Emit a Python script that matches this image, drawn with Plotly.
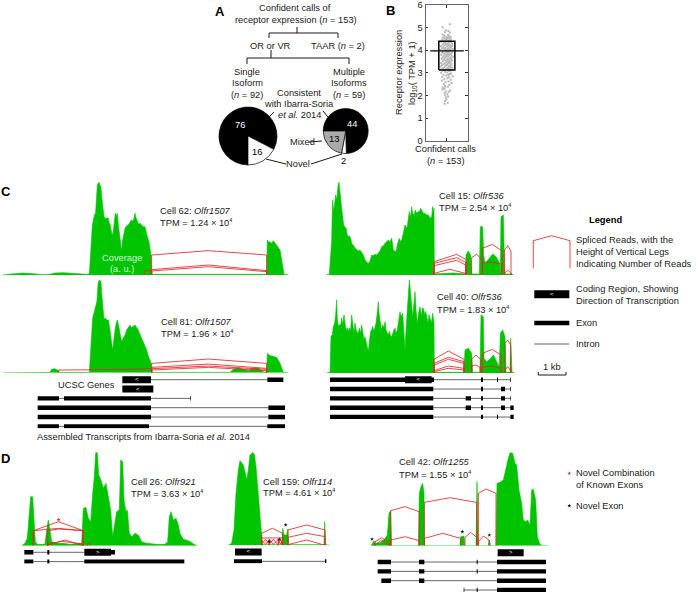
import plotly.graph_objects as go

W, H = 696, 592
GREEN = "#00C400"
RED = "rgba(228,40,40,0.85)"
INK = "#1a1a1a"
FONT = "Liberation Sans"

# ---- Panel A
PIE_SINGLE = [76, 16]
PIE_MULTI = [44, 2, 13]

# ---- Panel B
BOX_Q1, BOX_MEDIAN, BOX_Q3 = 3.13, 3.97, 4.40
BEE_Y = [5.15, 5.02, 4.88, 4.85, 4.80, 4.78, 4.70, 4.68,
         4.64,4.62,4.60,4.58,4.56,4.55,4.53,4.51,4.50,4.48,4.46,4.45,4.43,4.42,4.40,4.39,4.37,4.36,4.34,4.33,4.31,4.30,4.28,4.27,4.25,4.24,4.22,4.21,4.19,4.18,4.16,4.15,4.13,4.12,4.10,4.09,4.08,4.06,4.05,4.04,4.03,4.02,4.01,4.00,3.99,
         3.97,3.96,3.94,3.93,3.92,3.90,3.89,3.87,3.86,3.85,3.83,3.82,3.80,3.79,3.77,3.76,3.74,3.73,3.71,3.70,3.68,3.67,3.65,3.64,3.62,3.61,3.59,3.58,3.56,3.55,3.53,3.52,3.50,3.49,3.47,3.46,3.44,3.43,3.41,3.40,3.38,3.37,3.35,3.34,3.32,3.31,3.29,3.28,3.26,3.25,3.23,3.22,3.20,3.19,3.17,3.16,3.15,3.14,3.13,3.12,
         3.10,3.07,3.05,3.02,3.00,2.97,2.95,2.92,2.90,2.88,2.85,2.82,2.80,2.76,2.72,2.70,2.66,2.62,2.58,2.55,2.50,2.46,2.42,2.38,2.35,2.32,2.30,2.26,2.22,2.18,2.15,2.10,2.05,2.00,1.95,1.90,1.82,1.75,1.68,1.63]
BEE_X = [0.14, -0.20, -0.05, 0.07, -0.09, 0.14, -0.20, 0.06,
         -0.12, 0.10, -0.02, 0.18, -0.18, 0.05, -0.10, 0.12, 0.00, -0.22, 0.20, -0.06,
         0.08, -0.16, 0.15, 0.02, -0.26, 0.22, -0.08, 0.11, -0.14, 0.04, 0.26, -0.04,
         -0.20, 0.16, 0.07, -0.11, 0.24, -0.28, 0.01, 0.13, -0.17, 0.19, -0.07, 0.09,
         -0.24, 0.28, 0.03, -0.13, 0.17, -0.03, 0.10, -0.30, 0.21, -0.09, 0.05, -0.18,
         0.14, -0.02, 0.25, -0.22, 0.08, -0.12, 0.02, 0.18, -0.07, -0.26, 0.12, 0.00,
         0.22, -0.15, 0.06, -0.05, 0.27, -0.20, 0.15, -0.10, 0.03, -0.24, 0.20, 0.09,
         -0.14, 0.01, 0.24, -0.06, 0.13, -0.19, 0.07, -0.02, 0.18, -0.28, 0.11, -0.09,
         0.04, -0.16, 0.22, 0.00, -0.23, 0.15, -0.07, 0.09, -0.30, 0.19, -0.12, 0.03,
         0.26, -0.18, 0.10, -0.04, -0.26, 0.16, 0.05, -0.13, 0.23, -0.20, 0.12, -0.08,
         0.02, -0.27, 0.20, 0.14, -0.16, 0.07, -0.03, 0.28, -0.22, 0.11, 0.03, -0.12,
         0.18, -0.24, 0.08, -0.06, 0.22, -0.15, 0.12, -0.09, 0.04, -0.20, -0.10, -0.14,
         -0.21, 0.15, -0.05, 0.08, -0.11, 0.02, -0.08, 0.06, -0.04, -0.02, -0.09, 0.04, -0.10]

# ---- Panel C/D coverage tracks: position along the gene, coverage height (a.u.)
CELL62_X = [10,50,70,100,130,150,165,190,225,260,268,271,274,277,280,283,287,289,292,295,297,300,303,305,307,309,312,315,318,321,325,328,331,335,338,341,344,346,349,352,355,358,361,365,367,370,375,380,385,390,395,400,405,408,412,416,420,425,430,435,438,442,447,450,453,455,800,802,806,810,815,820,825,830,840,846,852,865]
CELL62_COV = [1,3,6,4,1,2,6,7,4,2,4,40,100,150,170,178,188,220,270,275,278,270,262,235,220,190,175,172,168,172,170,155,150,125,120,140,175,185,178,185,150,120,95,72,100,120,140,148,150,158,165,162,185,172,160,152,155,150,145,145,130,115,100,80,60,2,2,105,98,100,95,103,95,90,75,40,2,1]
CELL81_X = [10,150,155,165,175,180,268,271,274,278,282,285,288,291,293,295,299,303,305,307,310,312,315,318,322,325,329,332,335,338,341,345,349,352,355,358,361,365,370,375,380,385,390,394,397,401,405,408,412,418,425,432,440,445,450,453,455,690,700,715,730,745,760,775,790,800,802,808,815,830,840,850,865]
CELL81_COV = [0,1,10,12,6,1,1,60,110,165,180,190,200,215,250,273,278,273,240,218,175,158,165,160,158,158,135,118,90,68,100,128,150,158,145,128,110,93,105,113,128,135,143,135,138,140,143,138,133,120,103,85,68,50,38,30,1,1,10,15,10,6,13,13,3,1,58,52,50,46,28,1,0]
CELL15_X = [18,28,32,35,37,38,41,44,47,50,53,55,57,59,62,65,68,71,74,78,82,85,88,92,96,100,105,110,115,120,125,130,134,138,142,145,148,151,155,160,165,170,175,180,185,190,195,200,205,210,215,218,220,224,228,232,238,242,245,250,255,259,262,265,268,271,275,278,282,286,290,294,298,302,305,310,315,320,325,330,335,338,340,342,343,400,436,438,445,452,455,478,481,488,491,495,508,518,528,538,541,543,550,554,575,580]
CELL15_COV = [0,2,60,100,200,225,190,225,240,225,270,275,278,250,230,200,170,150,145,140,120,115,118,110,92,90,80,75,72,75,68,60,48,40,36,35,38,45,60,58,62,60,65,72,85,88,95,100,105,100,110,90,75,72,70,90,110,100,105,125,150,142,145,170,190,170,205,185,180,195,185,190,190,200,195,185,185,180,180,170,175,205,190,200,3,6,3,60,72,60,3,3,145,145,60,35,50,63,55,38,3,175,180,3,3,0]
CELL40_X = [20,30,33,37,40,44,47,50,52,55,58,62,65,68,72,75,78,82,85,88,92,95,98,102,105,108,112,115,118,122,125,128,132,135,138,142,145,148,152,155,158,162,165,168,172,175,178,182,185,188,192,195,198,202,205,208,212,215,218,222,225,228,232,236,240,243,248,252,255,258,262,265,268,270,272,275,278,282,285,288,292,296,300,304,307,310,314,317,320,324,327,330,334,338,340,342,343,432,435,445,455,458,480,483,490,492,500,512,520,528,538,541,548,555,558,570,572,576,585]
CELL40_COV = [0,2,110,115,140,150,175,219,160,139,145,144,165,145,174,150,130,135,124,135,130,174,140,120,150,130,120,119,135,120,144,120,100,109,95,75,64,95,125,129,140,125,139,150,180,214,170,140,129,145,135,154,130,120,114,125,110,109,120,130,134,120,129,160,184,170,179,120,69,130,179,230,279,260,239,190,169,210,244,190,149,180,199,170,195,194,175,185,169,150,175,164,150,179,150,149,2,2,69,74,59,2,2,174,169,44,34,44,54,39,19,119,129,109,2,2,104,2,0]
CELL26_X = [65,75,82,88,92,98,102,106,112,135,140,145,150,155,175,190,210,245,250,258,265,272,278,283,287,292,296,303,310,318,325,332,338,345,350,358,362,368,372,378,382,388,395,405,415,425,440,470,495,503,508,513,520,528,535,540,550,565,585,590]
CELL26_COV = [0,7,22,87,147,147,57,12,4,4,47,77,47,12,7,7,4,7,112,115,82,72,157,207,279,279,212,197,172,187,147,107,27,72,102,107,257,252,137,102,107,37,27,37,32,12,7,4,4,12,87,102,77,82,62,37,19,15,2,0]
CELL159_X = [55,65,72,78,85,90,95,100,105,110,115,120,128,133,138,145,152,157,160,215,218,222,230,233,236,342,344,347,360]
CELL159_COV = [0,6,46,156,226,254,248,241,221,196,226,271,278,274,236,156,76,6,2,2,51,31,31,48,2,2,71,2,0]
CELL42_X = [33,38,42,47,60,72,82,87,92,95,175,178,183,188,192,193,300,302,312,314,348,351,355,385,388,392,408,411,420,430,440,445,450,458,465,470,477,485,490,497,503,510,515,520,527,532,540,548,565]
CELL42_COV = [0,7,15,7,9,17,32,97,105,0,0,157,177,187,157,0,0,27,29,0,0,192,0,0,17,0,0,187,190,197,247,262,279,277,247,242,167,127,77,72,77,62,167,169,137,27,4,0,0]

# spliced reads: left, peak, right position; left, peak, right height
ARCS62 = [(455,625,800,60,73,60),(455,625,800,16,30,13),(455,625,800,12,25,10),(433,445,455,12,14,12)]
ARCS81 = [(455,625,800,28,41,28),(455,625,800,16,26,13),(455,625,800,12,20,10),(455,625,800,8,16,6),(175,315,455,8,9,12)]
ARCS15 = [(342,410,440,40,62,45),(342,410,437,35,52,38),(342,410,437,28,44,30),(342,390,436,5,17,5),(455,470,487,52,62,45),(487,517,547,80,92,72),(487,520,545,38,38,32),(554,563,573,75,88,72),(554,563,573,5,15,5)]
ARCS40 = [(342,385,432,41,66,41),(342,385,432,29,47,34),(342,385,432,24,41,29),(342,385,432,7,21,14),(342,385,432,4,14,9),(455,468,482,41,54,41),(455,468,480,21,24,17),(487,517,543,59,71,54),(487,517,543,17,21,14),(555,563,572,89,99,84),(555,563,572,9,19,7)]
ARCS26 = [(100,175,250,45,72,45),(100,175,250,45,52,45),(143,195,250,2,17,2),(145,185,250,5,13,5),(143,175,250,45,50,45),(262,267,272,2,9,2)]
ARCS159 = [(155,187,218,36,51,36),(155,187,218,22,22,22),(155,167,178,16,3,18),(178,190,205,18,3,18),(205,212,218,18,3,18),(155,167,178,3,18,3),(178,190,205,3,18,3),(205,212,218,3,18,3),(234,290,345,46,61,46),(234,290,345,24,36,26),(234,290,345,2,16,2)]
ARCS42 = [(92,135,178,105,117,102),(92,135,178,17,27,15),(193,270,350,130,144,130),(193,248,302,22,37,22),(315,332,350,25,40,25),(355,378,408,157,170,157),(355,370,387,12,29,17),(45,65,88,12,24,9),(45,65,88,2,17,2)]

# novel markers on tracks
NOVEL_RED_26 = ([176], [78])
NOVEL_BLACK_159 = ([178, 208, 227], [11, 18, 61])
NOVEL_BLACK_42 = ([36, 307, 388], [20, 42, 32])

# gene models: intron spans, exons, coding regions with direction
GENES_C_LEFT = [
    dict(intron=[(453,802)], exon=[(802,850)], coding=[(367,453,"<")]),
    dict(intron=[], exon=[], coding=[(367,460,"<")]),
    dict(intron=[(177,192),(453,572)], exon=[(113,177),(192,453),(571,573)], coding=[]),
    dict(intron=[(453,805)], exon=[(113,453),(805,855)], coding=[]),
    dict(intron=[(453,805)], exon=[(113,453),(805,855)], coding=[]),
    dict(intron=[(177,192),(447,802)], exon=[(113,177),(192,447),(802,855)], coding=[]),
]
GENES_C_RIGHT = [
    dict(intron=[(340,572)], exon=[(30,342),(483,489),(531,534),(571,573)], coding=[(255,335,"<")]),
    dict(intron=[(340,572)], exon=[(30,340),(483,489),(543,555),(571,573)], coding=[]),
    dict(intron=[(340,572)], exon=[(30,340),(437,453),(483,489),(543,555),(571,573)], coding=[]),
    dict(intron=[(340,572)], exon=[(30,340),(437,453),(483,489),(543,555),(571,581)], coding=[]),
    dict(intron=[(340,572)], exon=[(30,340),(483,489),(531,534),(571,581)], coding=[]),
]
GENES_D26 = [
    dict(intron=[(100,253)], exon=[(73,100),(142,148),(333,345)], coding=[(253,333,">")]),
    dict(intron=[(100,253)], exon=[(73,100),(142,148),(253,553)], coding=[]),
]
GENES_D159 = [
    dict(intron=[], exon=[], coding=[(75,155,"<")]),
    dict(intron=[(156,346)], exon=[(72,156),(345,349)], coding=[]),
]
GENES_D42 = [
    dict(intron=[], exon=[], coding=[(413,491,">")]),
    dict(intron=[(93,411)], exon=[(53,93),(177,193),(350,353),(411,558)], coding=[]),
    dict(intron=[(93,411)], exon=[(53,93),(177,193),(350,353),(411,558)], coding=[]),
    dict(intron=[(93,411)], exon=[(64,93),(177,193),(411,558)], coding=[]),
    dict(intron=[(312,411)], exon=[(311,313),(350,353),(411,558)], coding=[]),
]

E4 = '10<sup><span style="font-size:5.5px">4</span></sup>'
LABELS = [
    (295,8,"Confident calls of","center"),
    (296,19.5,"receptor expression (<i>n</i> = 153)","center"),
    (270,46,"OR or VR","center"), (338,46,"TAAR (<i>n</i> = 2)","center"),
    (247,72,"Single","center"), (247,83,"Isoform","center"), (247,95,"(<i>n</i> = 92)","center"),
    (349,72,"Multiple","center"), (349,83,"Isoforms","center"), (349,95,"(<i>n</i> = 59)","center"),
    (299,93,"Consistent","center"), (299,104,"with Ibarra-Soria","center"), (299,115,"<i>et al.</i> 2014","center"),
    (302,142,"Mixed","center"), (298,164,"Novel","center"),
    (445.7,149,"Confident calls","center"), (445.7,161,"(<i>n</i> = 153)","center"),
    (160,211,"Cell 62: <i>Olfr1507</i>","left"), (160,222,"TPM = 1.24 × "+E4,"left"),
    (160.7,322,"Cell 81: <i>Olfr1507</i>","left"), (160.7,333,"TPM = 1.96 × "+E4,"left"),
    (439.3,196,"Cell 15: <i>Olfr536</i>","left"), (439.3,207.7,"TPM = 2.54 × "+E4,"left"),
    (436.7,297.3,"Cell 40: <i>Olfr536</i>","left"), (436.7,309.3,"TPM = 1.83 × "+E4,"left"),
    (86,384.7,"UCSC Genes","center"),
    (37,436.7,"Assembled Transcripts from Ibarra-Soria <i>et al.</i> 2014","left"),
    (575.7,240.3,"Spliced Reads, with the","left"), (575.7,252.3,"Height of Vertical Legs","left"), (575.7,263.7,"Indicating Number of Reads","left"),
    (575.7,289.3,"Coding Region, Showing","left"), (575.7,300.7,"Direction of Transcription","left"),
    (575.7,322.7,"Exon","left"), (575.7,344,"Intron","left"), (552,367,"1 kb","center"),
    (130.7,482,"Cell 26: <i>Olfr921</i>","left"), (130.7,493.3,"TPM = 3.63 × "+E4,"left"),
    (263.3,481.7,"Cell 159: <i>Olfr114</i>","left"), (263.3,492.7,"TPM = 4.61 × "+E4,"left"),
    (399,462.3,"Cell 42: <i>Olfr1255</i>","left"), (399,474,"TPM = 1.55 × "+E4,"left"),
    (576,473,"Novel Combination","left"), (576,484.7,"of Known Exons","left"), (576,505.7,"Novel Exon","left"),
]
PANEL_LETTERS = [(220,11,"A"), (390,10,"B"), (1,191,"C"), (1,458,"D")]

# page-scale furniture (tree, connectors, legend samples)
FURNITURE = [
    [(297,27),(297,33)], [(269,38),(269,33),(338,33),(338,38)],
    [(271,50),(271,58)], [(247,64),(247,58),(349,58),(349,64)],
    [(269,117),(274,112)], [(328,117),(323,111)],
    [(309,142),(322,141)], [(286,164),(266,159)], [(311,164),(342,154)],
]

fig = go.Figure()
layout = dict(
    width=W, height=H, margin=dict(l=0, r=0, t=0, b=0, pad=0, autoexpand=False),
    paper_bgcolor="white", plot_bgcolor="rgba(0,0,0,0)", showlegend=False,
    font=dict(family=FONT, size=9.3, color=INK),
    annotations=[],
)
hidden = dict(visible=False, showgrid=False, zeroline=False, fixedrange=True)
axis_count = [1]
layout["xaxis"] = dict(hidden, domain=[0, 1], range=[0, W])
layout["yaxis"] = dict(hidden, domain=[0, 1], range=[H, 0])


def new_axes(px0, px1, py_top, py_bot, xr, yr, **extra):
    axis_count[0] += 1
    n = axis_count[0]
    layout[f"xaxis{n}"] = dict(hidden, domain=[px0 / W, px1 / W], range=xr, anchor=f"y{n}", **extra)
    layout[f"yaxis{n}"] = dict(hidden, domain=[1 - py_bot / H, 1 - py_top / H], range=yr, anchor=f"x{n}", **extra)
    return f"x{n}", f"y{n}"


def add_track(ox, base, width, xs, cov, arcs, red=None, black=None):
    xa, ya = new_axes(ox, ox + width, base - 100, base, [0, width * 3], [0, 300])
    fig.add_trace(go.Scatter(x=xs, y=cov, xaxis=xa, yaxis=ya, mode="lines", fill="tozeroy",
                             fillcolor=GREEN, line=dict(color=GREEN, width=0.6), cliponaxis=False))
    px, py = [], []
    for xl, xp, xr, hl, hp, hr in arcs:
        px += [xl, xl, xp, xr, xr, None]
        py += [0, hl, hp, hr, 0, None]
    fig.add_trace(go.Scatter(x=px, y=py, xaxis=xa, yaxis=ya, mode="lines",
                             line=dict(color=RED, width=1), cliponaxis=False))
    for pts, col in ((red, "#e02030"), (black, "#111111")):
        if pts:
            fig.add_trace(go.Scatter(x=pts[0], y=pts[1], xaxis=xa, yaxis=ya, mode="markers",
                                     marker=dict(symbol="star", size=3, color=col, line=dict(width=0)), cliponaxis=False))


def add_genes(ox, y0, width, rows):
    step = 9.33
    last = len(rows) - 1 + 0.2
    xa, ya = new_axes(ox, ox + width, y0 - step, y0 + step * last, [0, width * 3], [last, -1])
    ix, iy, ex, ey, cx, cy, tx, ty, tt = [], [], [], [], [], [], [], [], []
    for r, row in enumerate(rows):
        for a, b in row["intron"]:
            ix += [a, b, None]; iy += [r, r, None]
        for a, b in row["exon"]:
            ex += [a, b, None]; ey += [r, r, None]
        for a, b, d in row["coding"]:
            cx += [a, b, None]; cy += [r, r, None]
            tx.append((a + b) / 2); ty.append(r); tt.append(d)
    fig.add_trace(go.Scatter(x=ix, y=iy, xaxis=xa, yaxis=ya, mode="lines", line=dict(color="#666666", width=1), cliponaxis=False))
    fig.add_trace(go.Scatter(x=ex, y=ey, xaxis=xa, yaxis=ya, mode="lines", line=dict(color="black", width=4.4), cliponaxis=False))
    if cx:
        fig.add_trace(go.Scatter(x=cx, y=cy, xaxis=xa, yaxis=ya, mode="lines", line=dict(color="black", width=7), cliponaxis=False))
        fig.add_trace(go.Scatter(x=tx, y=ty, xaxis=xa, yaxis=ya, mode="text", text=tt,
                                 textfont=dict(color="white", size=6, family=FONT), cliponaxis=False))


# tracks
add_track(0, 275, 300, CELL62_X, CELL62_COV, ARCS62)
add_track(0, 372.7, 300, CELL81_X, CELL81_COV, ARCS81)
add_track(320, 275, 210, CELL15_X, CELL15_COV, ARCS15)
add_track(320, 373, 210, CELL40_X, CELL40_COV, ARCS40)
add_track(0, 545.7, 210, CELL26_X, CELL26_COV, ARCS26, red=NOVEL_RED_26)
add_track(210, 545.3, 150, CELL159_X, CELL159_COV, ARCS159, black=NOVEL_BLACK_159)
add_track(360, 545.7, 336, CELL42_X, CELL42_COV, ARCS42, black=NOVEL_BLACK_42)

add_genes(0, 379.7, 300, GENES_C_LEFT)
add_genes(320, 379.7, 210, GENES_C_RIGHT)
add_genes(0, 552.3, 210, GENES_D26)
add_genes(210, 552, 150, GENES_D159)
add_genes(360, 552.7, 336, GENES_D42)

# furniture on the page axis
fx, fy = [], []
for seg in FURNITURE:
    fx += [p[0] for p in seg] + [None]
    fy += [p[1] for p in seg] + [None]
fig.add_trace(go.Scatter(x=fx, y=fy, mode="lines", line=dict(color=INK, width=1)))
fig.add_trace(go.Scatter(x=[533.3, 533.3, 551.7, 570, 570], y=[268.3, 240.7, 235.7, 240.7, 268.3],
                         mode="lines", line=dict(color=RED, width=1)))
fig.add_trace(go.Scatter(x=[534.3, 569.3], y=[294.3, 294.3], mode="lines", line=dict(color="black", width=8)))
fig.add_trace(go.Scatter(x=[534.3, 569.3], y=[323, 323], mode="lines", line=dict(color="black", width=4.4)))
fig.add_trace(go.Scatter(x=[534.3, 569.3], y=[344, 344], mode="lines", line=dict(color="#666666", width=1)))
fig.add_trace(go.Scatter(x=[538.3, 538.3, 566, 566], y=[372, 375, 375, 372], mode="lines", line=dict(color=INK, width=1)))
fig.add_trace(go.Scatter(x=[551.7], y=[294.3], mode="text", text=["<"], textfont=dict(color="white", size=6, family=FONT)))
fig.add_trace(go.Scatter(x=[569.3], y=[473.3], mode="markers", marker=dict(symbol="star", size=3, color="#e02030")))
fig.add_trace(go.Scatter(x=[569.3], y=[505.7], mode="markers", marker=dict(symbol="star", size=3, color="#111111")))

# pies
def pie(values, cx, cy, r, colors, rotation):
    fig.add_trace(go.Pie(values=values, sort=False, direction="clockwise", rotation=rotation,
                         marker=dict(colors=colors, line=dict(color="black", width=0.7)), textinfo="none",
                         hoverinfo="skip", domain=dict(x=[(cx - r) / W, (cx + r) / W], y=[1 - (cy + r) / H, 1 - (cy - r) / H])))


pie(PIE_SINGLE, 248, 136, 29, ["black", "white"], 180)
pie(PIE_MULTI, 345.7, 131, 22.5, ["black", "white", "#aaaaaa"], 270)

# panel B
axis_count[0] += 1
n = axis_count[0]
xa, ya = f"x{n}", f"y{n}"
axis_style = dict(showgrid=False, zeroline=False, showline=True, mirror="ticks", linecolor="#666666", linewidth=1.3,
                  ticks="inside", ticklen=2.5, tickcolor="#333333", fixedrange=True)
layout[f"xaxis{n}"] = dict(axis_style, domain=[425.7 / W, 468 / W], range=[-1, 1], anchor=f"y{n}", tickvals=[0], showticklabels=False)
layout[f"yaxis{n}"] = dict(axis_style, domain=[1 - 140.7 / H, 1 - 5 / H], range=[0, 6], anchor=f"x{n}",
                           tickvals=[0, 1, 2, 3, 4, 5, 6], tickfont=dict(size=9.3, family=FONT, color=INK))
fig.add_trace(go.Scatter(x=BEE_X, y=BEE_Y, xaxis=xa, yaxis=ya, mode="markers",
                         marker=dict(symbol="square", size=2, color="#b8b8b8", line=dict(width=0))))
fig.add_trace(go.Scatter(x=[-0.38, 0.38, 0.38, -0.38, -0.38], y=[BOX_Q1, BOX_Q1, BOX_Q3, BOX_Q3, BOX_Q1],
                         xaxis=xa, yaxis=ya, mode="lines", line=dict(color="black", width=1.5)))
fig.add_trace(go.Scatter(x=[-0.78, 0.8], y=[BOX_MEDIAN, BOX_MEDIAN], xaxis=xa, yaxis=ya, mode="lines",
                         line=dict(color="black", width=1.3)))


def note(x, y, text, anchor="center", color=INK, size=9.3, angle=0):
    layout["annotations"].append(dict(x=x, y=y, xref="x", yref="y", text=text, showarrow=False, xanchor=anchor, yanchor="middle",
                                      align=anchor, textangle=angle, borderpad=0, borderwidth=0,
                                      font=dict(family=FONT, size=size, color=color)))


for x, y, t, a in LABELS:
    note(x, y, t, a)
for x, y, t in PANEL_LETTERS:
    note(x, y, f"<b>{t}</b>", "center" if x > 100 else "left", "black", 13)
note(240.3, 125, "76", color="white")
note(256.7, 151.7, "16", color="black")
note(352.3, 124, "44", color="white")
note(334, 139, "13", color="black")
note(343.7, 160.7, "2", color="black")
note(399, 73, "Receptor expression", angle=-90)
note(412, 73, "log<sub>10</sub>( TPM + 1)", angle=-90)
note(122, 257.7, "Coverage", color="#d8f5d8")
note(122, 269, "(a. u.)", color="#d8f5d8")
note(605, 220, "<b>Legend</b>", color="black")

fig.update_layout(**layout)
fig.write_html("out.html", config=dict(displayModeBar=False),
               post_script="document.body.style.margin='0';")
